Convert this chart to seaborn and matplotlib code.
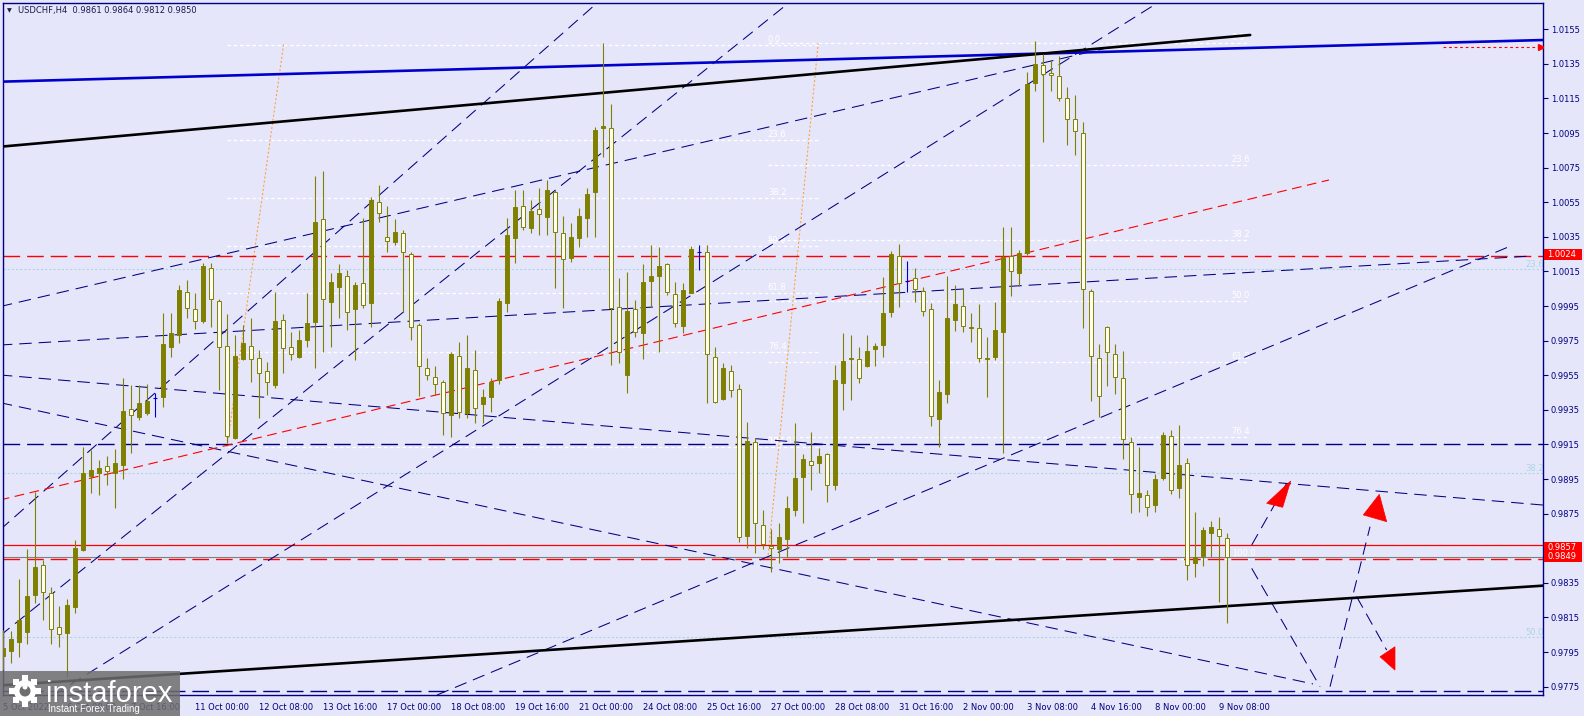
import matplotlib
matplotlib.use("Agg")
import matplotlib.pyplot as plt
import seaborn as sns
import numpy as np
import pandas as pd
from matplotlib.patches import Rectangle, Polygon, Circle

# ---------------- data ----------------
open_ = [0.97927, 0.97958, 0.98010, 0.98064, 0.98280, 0.98453, 0.98293, 0.98093, 0.98062, 0.98212,
         0.98540, 0.98968, 0.98983, 0.99026, 0.98983, 0.99031, 0.99353, 0.99311, 0.99330, 0.99417,
         0.99423, 0.99715, 0.99783, 1.00029, 0.99931, 0.99864, 1.00172, 0.99979, 0.99719, 0.99190,
         0.99644, 0.99719, 0.99648, 0.99577, 0.99494, 0.99870, 0.99716, 0.99658, 0.99754, 0.99860,
         1.00452, 0.99976, 1.00058, 1.00126, 0.99931, 1.00082, 0.99970, 1.00550, 1.00347, 1.00319,
         1.00374, 1.00251, 0.99841, 0.99590, 0.99538, 0.99509, 0.99321, 0.99661, 0.99330, 0.99581,
         0.99384, 0.99426, 0.99523, 0.99970, 1.00342, 1.00529, 1.00403, 1.00509, 1.00467, 1.00608,
         1.00371, 1.00226, 1.00342, 1.00457, 1.00608, 1.00978, 1.00978, 0.99947, 0.99552, 0.99933,
         0.99793, 1.00097, 1.00126, 1.00191, 1.00020, 0.99837, 1.00028, 1.00265, 1.00261, 0.99658,
         0.99411, 0.99577, 0.99469, 0.98621, 0.99162, 0.98685, 0.98563, 0.98544, 0.98602, 0.98771,
         0.98960, 0.99055, 0.99041, 0.99093, 0.98916, 0.99507, 0.99642, 0.99642, 0.99604, 0.99700,
         0.99725, 0.99918, 1.00240, 1.00097, 1.00112, 1.00039, 0.99934, 0.99300, 0.99440, 0.99867,
         0.99952, 0.99823, 0.99823, 0.99647, 0.99656, 0.99801, 1.00242, 1.00141, 1.00257, 1.01237,
         1.01342, 1.01299, 1.01279, 1.01152, 1.01032, 1.00948, 1.00035, 0.99649, 0.99830, 0.99672,
         0.99533, 0.99166, 0.98848, 0.98859, 0.98799, 0.98955, 0.99199, 0.98900, 0.99041, 0.98463,
         0.98505, 0.98640, 0.98659, 0.98610]
high_ = [0.98078, 0.98072, 0.98370, 0.98546, 0.98877, 0.98482, 0.98324, 0.98216, 0.98255, 0.98598,
         0.99137, 0.99118, 0.99060, 0.99084, 0.99122, 0.99532, 0.99494, 0.99494, 0.99500, 0.99446,
         0.99908, 0.99908, 1.00072, 1.00101, 1.00028, 1.00197, 1.00197, 0.99989, 0.99904, 0.99783,
         0.99841, 0.99879, 0.99696, 0.99629, 1.00033, 0.99904, 0.99802, 0.99812, 1.00024, 1.00704,
         1.00731, 1.00139, 1.00191, 1.00159, 1.00091, 1.00457, 1.00583, 1.00650, 1.00529, 1.00452,
         1.00390, 1.00265, 0.99850, 0.99648, 0.99604, 0.99523, 0.99687, 0.99744, 0.99783, 0.99696,
         0.99469, 0.99532, 0.99995, 1.00457, 1.00621, 1.00621, 1.00563, 1.00631, 1.00679, 1.00621,
         1.00471, 1.00428, 1.00515, 1.00631, 1.00987, 1.01469, 1.01118, 1.00111, 1.00149, 0.99985,
         1.00191, 1.00303, 1.00294, 1.00201, 1.00087, 1.00082, 1.00298, 1.00303, 1.00303, 0.99716,
         0.99619, 0.99610, 0.99500, 0.99282, 0.99186, 0.98771, 0.98660, 0.98694, 0.98852, 0.99272,
         0.99095, 0.99224, 0.99128, 0.99099, 0.99610, 0.99793, 0.99783, 0.99716, 0.99783, 0.99739,
         1.00120, 1.00270, 1.00309, 1.00213, 1.00168, 1.00063, 0.99968, 0.99522, 1.00124, 1.00072,
         1.00057, 0.99912, 0.99963, 0.99774, 0.99972, 1.00406, 1.00406, 1.00273, 1.01304, 1.01482,
         1.01409, 1.01371, 1.01393, 1.01219, 1.01170, 1.01014, 1.00050, 0.99729, 0.99834, 0.99729,
         0.99689, 0.99191, 0.99133, 0.98888, 0.98977, 0.99222, 0.99233, 0.99263, 0.99070, 0.98762,
         0.98675, 0.98710, 0.98729, 0.98640]
low_ = [0.97846, 0.97885, 0.97923, 0.97999, 0.98232, 0.98135, 0.97999, 0.97981, 0.97808, 0.98174,
        0.98536, 0.98868, 0.98858, 0.98916, 0.98781, 0.98948, 0.99099, 0.99292, 0.99320, 0.99311,
        0.99369, 0.99658, 0.99739, 0.99879, 0.99816, 0.99850, 0.99831, 0.99465, 0.99157, 0.99180,
        0.99638, 0.99513, 0.99301, 0.99436, 0.99475, 0.99561, 0.99638, 0.99648, 0.99716, 0.99590,
        0.99686, 0.99712, 0.99879, 0.99812, 0.99638, 0.99937, 0.99831, 1.00438, 1.00265, 1.00303,
        0.99918, 0.99754, 0.99430, 0.99523, 0.99436, 0.99205, 0.99195, 0.99301, 0.99301, 0.99272,
        0.99272, 0.99340, 0.99500, 0.99918, 1.00197, 1.00390, 1.00371, 1.00361, 1.00361, 1.00053,
        0.99937, 1.00207, 1.00294, 1.00351, 1.00351, 1.00814, 0.99610, 0.99619, 0.99446, 0.99773,
        0.99642, 0.99947, 0.99687, 1.00014, 0.99827, 0.99796, 1.00024, 1.00159, 0.99388, 0.99388,
        0.99407, 0.99423, 0.98588, 0.98550, 0.98521, 0.98544, 0.98415, 0.98467, 0.98502, 0.98737,
        0.98694, 0.98887, 0.98983, 0.98819, 0.98887, 0.99349, 0.99407, 0.99503, 0.99600, 0.99604,
        0.99658, 0.99885, 0.99947, 1.00033, 0.99971, 0.99894, 0.99255, 0.99137, 0.99389, 0.99805,
        0.99801, 0.99745, 0.99627, 0.99422, 0.99640, 0.99099, 1.00006, 1.00064, 1.00246, 1.01193,
        1.00896, 1.01193, 1.01137, 1.00881, 1.00825, 0.99823, 0.99400, 0.99311, 0.99489, 0.99444,
        0.99066, 0.98752, 0.98759, 0.98736, 0.98759, 0.98943, 0.98861, 0.98839, 0.98367, 0.98386,
        0.98450, 0.98502, 0.98241, 0.98120]
close_ = [0.97972, 0.98024, 0.98135, 0.98274, 0.98444, 0.98299, 0.98081, 0.98053, 0.98222, 0.98550,
          0.98983, 0.99002, 0.99012, 0.98999, 0.99041, 0.99346, 0.99320, 0.99388, 0.99403, 0.99417,
          0.99729, 0.99792, 1.00043, 0.99937, 0.99864, 1.00182, 0.99989, 0.99712, 0.99199, 0.99662,
          0.99735, 0.99644, 0.99561, 0.99509, 0.99864, 0.99710, 0.99673, 0.99754, 0.99850, 1.00438,
          0.99989, 1.00087, 1.00139, 0.99918, 1.00072, 0.99956, 1.00563, 1.00486, 1.00328, 1.00376,
          1.00261, 0.99831, 0.99604, 0.99552, 0.99500, 0.99334, 0.99673, 0.99340, 0.99590, 0.99359,
          0.99426, 0.99513, 0.99981, 1.00361, 1.00525, 1.00409, 1.00500, 1.00480, 1.00621, 1.00376,
          1.00220, 1.00347, 1.00471, 1.00598, 1.00968, 1.00991, 0.99937, 0.99687, 0.99922, 0.99802,
          1.00087, 1.00124, 1.00182, 1.00030, 0.99850, 1.00043, 1.00280, 1.00265, 0.99673, 0.99398,
          0.99590, 0.99465, 0.98613, 0.99172, 0.98694, 0.98575, 0.98550, 0.98613, 0.98781, 0.98954,
          0.99064, 0.99031, 0.99083, 0.98916, 0.99523, 0.99633, 0.99652, 0.99532, 0.99690, 0.99721,
          0.99908, 1.00251, 1.00085, 1.00097, 1.00050, 0.99923, 0.99315, 0.99451, 0.99879, 0.99963,
          0.99834, 0.99832, 0.99649, 0.99651, 0.99812, 1.00235, 1.00153, 1.00257, 1.01233, 1.01348,
          1.01293, 1.01288, 1.01152, 1.01032, 1.00963, 1.00046, 0.99663, 0.99433, 0.99685, 0.99538,
          0.99182, 0.98862, 0.98870, 0.98787, 0.98948, 0.99206, 0.98888, 0.99031, 0.98453, 0.98501,
          0.98656, 0.98671, 0.98621, 0.98500]

time_tick_bars = [0, 8, 16, 24, 32, 40, 48, 56, 64, 72, 80, 88, 96, 104, 112, 120, 128, 136, 144, 152]
time_tick_labels = ["5 Oct 2022", "6 Oct 08:00", "7 Oct 16:00", "11 Oct 00:00", "12 Oct 08:00",
                    "13 Oct 16:00", "17 Oct 00:00", "18 Oct 08:00", "19 Oct 16:00", "21 Oct 00:00",
                    "24 Oct 08:00", "25 Oct 16:00", "27 Oct 00:00", "28 Oct 08:00", "31 Oct 16:00",
                    "2 Nov 00:00", "3 Nov 08:00", "4 Nov 16:00", "8 Nov 00:00", "9 Nov 08:00"]
price_ticks = [0.9775, 0.9795, 0.9815, 0.9835, 0.9855, 0.9875, 0.9895, 0.9915, 0.9935, 0.9955,
               0.9975, 0.9995, 1.0015, 1.0035, 1.0055, 1.0075, 1.0095, 1.0115, 1.0135, 1.0155]

# drawn objects: (bar, price) end points
blue_channel = [(-0.4, 1.01247), (192.5, 1.01488)]
black_upper = [(-0.4, 1.00871), (155.9, 1.01517)]
black_lower = [(-0.4, 0.97757), (192.5, 0.98334)]
red_trend = [(-0.4, 0.98829), (165.75, 1.00679)]
trend_a = [(-0.4, 0.99947), (139.0, 1.01453)]
trend_b = [(-0.4, 0.99725), (191.25, 1.00240)]
trend_c = [(-0.4, 0.99552), (192.5, 0.98800)]
trend_d = [(-0.4, 0.99392), (163.75, 0.97766)]
trend_e = [(-0.4, 0.98656), (74.25, 1.01702)]
trend_f = [(6.35, 0.97702), (144.3, 1.01702)]
trend_g = [(54.25, 0.97702), (188.75, 1.00303)]
trend_i = [(-0.4, 0.98044), (98.2, 1.01702)]
path_up1 = [(156.09, 0.98569), (160.46, 0.98926)]
path_down = [(156.09, 0.98434), (164.63, 0.97750)]
path_up2 = [(165.88, 0.97750), (170.88, 0.98675)]
path_down2 = [(169.21, 0.98270), (172.96, 0.97962)]
arrow_up1 = [(160.96, 0.98939), (157.96, 0.98810), (159.96, 0.98787)]
arrow_up2 = [(172.04, 0.98862), (170.04, 0.98743), (172.96, 0.98704)]
arrow_down = [(172.13, 0.97923), (174.0, 0.97981), (174.0, 0.97846)]

level_red_dash = 1.0024
level_red_solid = 0.9857
level_bid = 0.9850
level_red_dash2 = 0.9849
level_navy_mid = 0.99155
level_navy_low = 0.97725

fib_levels = [0.0, 23.6, 38.2, 50.0, 61.8, 76.4, 100.0]
fib1_prices = (1.01459, 0.99137)
fib1_bars = (28.0, 101.9)
fib1_anchor = [(28.0, 0.99137), (35.1, 1.01471)]
fib2_prices = (1.01468, 0.98488)
fib2_bars = (95.6, 155.6)
fib2_anchor = [(95.6, 0.98488), (101.9, 1.01468)]
fib3_levels = [23.6, 38.2, 50.0]
fib3_prices = (1.02069, 0.94000)

# ---------------- style ----------------
BG = "#E6E6FA"
NAVY = "#000080"
OLIVE = "#808000"
IVORY = "#FFFFF0"
sns.set_theme(style="white", rc={"axes.facecolor": BG, "figure.facecolor": BG})
plt.rcParams["font.family"] = ["DejaVu Sans"]
plt.rcParams["lines.scale_dashes"] = False

W, H = 1584, 716
fig = plt.figure(figsize=(W / 100, H / 100), dpi=100)
fig.patch.set_facecolor(BG)
ax = fig.add_axes([2.7 / W, (H - 695) / H, (1543.3 - 2.7) / W, (695 - 3) / H])
ax.set_facecolor(BG)
ax.set_xlim(-0.04, 192.54)
ax.set_ylim(0.97702, 1.01702)

df = pd.DataFrame({"bar": np.arange(len(open_)), "o": open_, "h": high_, "l": low_, "c": close_})
doji = df["o"] == df["c"]
up = (df["c"] > df["o"]) & ~doji
dn = (df["c"] < df["o"]) & ~doji


def seg(pts, **kw):
    ax.plot([p[0] for p in pts], [p[1] for p in pts], **kw)


# light cyan fib
for lv in fib3_levels:
    p = fib3_prices[0] + (fib3_prices[1] - fib3_prices[0]) * lv / 100
    ax.axhline(p, color="#A9D6E5", lw=0.8, dashes=(1.5, 1.5), zorder=1)
    ax.text(190.3, p, f"{lv:.1f}", color="#A9D6E5", fontsize=6, va="bottom", ha="left", zorder=1)

# white fibs
for (p0, p1), (b0, b1), lab_bar in [(fib1_prices, fib1_bars, 95.6), (fib2_prices, fib2_bars, 153.6)]:
    for lv in fib_levels:
        p = p0 + (p1 - p0) * lv / 100
        ax.plot([b0, b1], [p, p], color="white", lw=0.9, dashes=(2.5, 2), zorder=1)
        ax.text(lab_bar, p + 0.00006, f"{lv:.1f}", color="white", fontsize=6, va="bottom", ha="left", zorder=1)
for anc in (fib1_anchor, fib2_anchor):
    seg(anc, color="#FFA040", lw=0.8, dashes=(1.5, 1.5), zorder=1)

ax.axhline(level_navy_mid, color=NAVY, lw=1.0, dashes=(12, 5), zorder=2)
ax.axhline(level_navy_low, color=NAVY, lw=1.0, dashes=(12, 5), zorder=2)
ax.axhline(level_red_dash, color="#FF0000", lw=1.0, dashes=(12, 5), zorder=2)
ax.axhline(level_red_solid, color="#FF0000", lw=0.9, zorder=2)
ax.axhline(level_bid, color="#808080", lw=0.8, zorder=2)
ax.axhline(level_red_dash2, color="#FF0000", lw=1.0, dashes=(12, 5), zorder=2)

for tl in (trend_a, trend_b, trend_c, trend_d, trend_e, trend_f, trend_g, trend_i):
    seg(tl, color=NAVY, lw=0.75, dashes=(9, 5), zorder=2)
seg(red_trend, color="#FF0000", lw=0.8, dashes=(7, 4), zorder=2)

thick = pd.DataFrame({
    "bar": [p[0] for p in blue_channel + black_upper + black_lower],
    "price": [p[1] for p in blue_channel + black_upper + black_lower],
    "line": ["blue"] * 2 + ["upper"] * 2 + ["lower"] * 2,
})
sns.lineplot(data=thick, x="bar", y="price", hue="line", units="line", estimator=None,
             palette={"blue": "#0000CD", "upper": "#000000", "lower": "#000000"},
             lw=1.9, legend=False, ax=ax, zorder=3, sort=False)

for pth in (path_up1, path_down, path_up2, path_down2):
    seg(pth, color=NAVY, lw=0.75, dashes=(9, 5), zorder=2)
for tri in (arrow_up1, arrow_up2, arrow_down):
    ax.add_patch(Polygon(tri, closed=True, fc="#FF0000", ec="#FF0000", lw=0.5, zorder=4))

# red dotted marker arrow at top right
ax.plot([180.0, 192.2], [1.01446, 1.01446], color="#FF0000", lw=0.8, dashes=(2, 2), zorder=4)
ax.plot([192.2], [1.01446], marker=">", ms=4, color="#FF0000", zorder=4)

# candles
BW = 0.62
ax.vlines(df.loc[~doji, "bar"], df.loc[~doji, "l"], df.loc[~doji, "h"], color=OLIVE, lw=0.8, zorder=5)
ax.vlines(df.loc[doji, "bar"], df.loc[doji, "l"], df.loc[doji, "h"], color="#0000CC", lw=0.8, zorder=5)
ax.hlines(df.loc[doji, "c"], df.loc[doji, "bar"] - BW / 2, df.loc[doji, "bar"] + BW / 2, color="#0000CC", lw=0.8, zorder=6)
hgt = (df["c"] - df["o"]).abs().clip(lower=0.00005)
bot = df[["o", "c"]].min(axis=1)
ax.bar(df.loc[up, "bar"], hgt[up], bottom=bot[up], width=BW, color=OLIVE, edgecolor=OLIVE, lw=0.7, zorder=6)
ax.bar(df.loc[dn, "bar"], hgt[dn], bottom=bot[dn], width=BW, color=IVORY, edgecolor=OLIVE, lw=0.7, zorder=6)

# axes / ticks
for s in ax.spines.values():
    s.set_color(NAVY)
    s.set_linewidth(1.0)
ax.yaxis.tick_right()
ax.set_yticks(price_ticks)
ax.set_yticklabels([f"{p:.4f}" for p in price_ticks])
ax.set_xticks(time_tick_bars)
ax.set_xticklabels(time_tick_labels)
ax.tick_params(axis="both", colors=NAVY, labelcolor=NAVY, labelsize=6, length=3.5, width=0.8, direction="out")
ax.tick_params(axis="x", pad=2.5)
ax.tick_params(axis="y", pad=2)
for lbl in ax.get_xticklabels():
    lbl.set_ha("left")
ax.set_xlabel("")
ax.set_ylabel("")
ax.grid(False)

# overlay in pixel coordinates for chart furniture
ov = fig.add_axes([0, 0, 1, 1], zorder=10)
ov.set_xlim(0, W)
ov.set_ylim(H, 0)
ov.axis("off")
ov.patch.set_alpha(0)

ov.text(7, 10.5, "\u25BC", fontsize=4.5, color="#1A1A50", va="center", ha="left")
ov.text(18, 10.5, "USDCHF,H4  0.9861 0.9864 0.9812 0.9850", fontsize=6, color="#1A1A50", va="center", ha="left")

# price labels on the axis (0.9849 drawn over 0.9857, as in the terminal)
for txt, yc in (("1.0024", 254.5), ("0.9857", 547.5), ("0.9849", 556.5)):
    ov.add_patch(Rectangle((1544, yc - 5.8), 38, 11.6, fc="#FF0000", ec="none"))
    ov.text(1547, yc, txt, fontsize=6, color="white", va="center", ha="left")

# watermark
ov.add_patch(Rectangle((0, 671), 180, 45, fc="#6E6E6E", ec="none", alpha=0.85))
ov.add_patch(Circle((25, 691), 11, fc="white", ec="none"))
for ang in np.linspace(0, 2 * np.pi, 8, endpoint=False):
    ov.add_patch(Rectangle((25 + 13 * np.cos(ang) - 3, 691 + 13 * np.sin(ang) - 3), 6, 6, fc="white", ec="none"))
ov.add_patch(Circle((25, 691), 5.5, fc="#6E6E6E", ec="none"))
ov.add_patch(Circle((25, 687), 2.5, fc="white", ec="none"))
ov.text(46, 702, "instaforex", fontsize=21, color="white", family="Liberation Sans", va="baseline", ha="left")
ov.text(48, 712, "Instant Forex Trading", fontsize=7, color="white", family="Liberation Sans", va="baseline", ha="left")

fig.savefig("out.png", dpi=100, facecolor=BG)
